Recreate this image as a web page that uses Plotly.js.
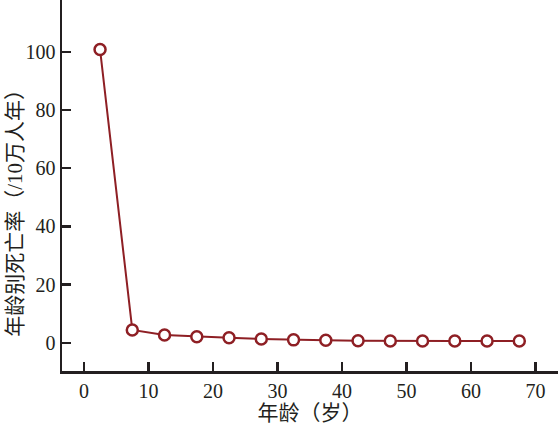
<!DOCTYPE html>
<html>
<head>
<meta charset="utf-8">
<script src="https://cdn.plot.ly/plotly-3.0.1.min.js"></script>
<style>
  html, body { margin: 0; padding: 0; background: #fff; }
  #chart { width: 558px; height: 426px; }
</style>
</head>
<body>
<div id="chart"></div>
<script>
const ageMid = [2.5, 7.5, 12.5, 17.5, 22.5, 27.5, 32.5, 37.5, 42.5, 47.5, 52.5, 57.5, 62.5, 67.5];
const rate = [100.8, 4.4, 2.7, 2.1, 1.7, 1.3, 1.0, 0.9, 0.7, 0.6, 0.6, 0.6, 0.6, 0.6];

const xTicks = [0, 10, 20, 30, 40, 50, 60, 70];
const yTicks = [0, 20, 40, 60, 80, 100];

const xTitle = '年龄（岁）';
const yTitle = '年龄别死亡率（/10万人年）';

const lineColor = '#8e1f24';
const axisColor = '#231f20';
const serif = '"Liberation Serif", "Times New Roman", serif';
const cjk = '"Liberation Serif", "Noto Sans CJK SC", serif';

const trace = {
  x: ageMid,
  y: rate,
  mode: 'lines+markers',
  line: { color: lineColor, width: 2 },
  marker: { symbol: 'circle', size: 11, color: '#fff', line: { color: lineColor, width: 2.5 } },
  hoverinfo: 'x+y'
};

const axisCommon = {
  showgrid: false,
  zeroline: false,
  showline: true,
  linecolor: axisColor,
  linewidth: 2.5,
  ticks: 'inside',
  ticklen: 9,
  tickwidth: 2.5,
  tickcolor: axisColor,
  tickfont: { family: serif, size: 20, color: axisColor }
};

const layout = {
  width: 558,
  height: 426,
  margin: { t: 0, r: 0, l: 62, b: 55 },
  paper_bgcolor: '#fff',
  plot_bgcolor: '#fff',
  showlegend: false,
  xaxis: Object.assign({}, axisCommon, {
    range: [-3.4, 73.5],
    tickvals: xTicks,
    title: { text: xTitle, font: { family: cjk, size: 21, color: axisColor }, standoff: 0 }
  }),
  yaxis: Object.assign({}, axisCommon, {
    range: [-9.7, 117.8],
    tickvals: yTicks
  }),
  // y title sits a bit below the plot's middle in the original
  annotations: [{
    text: yTitle,
    xref: 'paper', yref: 'paper',
    x: 0, y: 0.44,
    xanchor: 'center', yanchor: 'middle',
    xshift: -47,
    textangle: -90,
    showarrow: false,
    font: { family: cjk, size: 21, color: axisColor }
  }]
};

Plotly.newPlot('chart', [trace], layout, { displayModeBar: false, staticPlot: true });
</script>
</body>
</html>
